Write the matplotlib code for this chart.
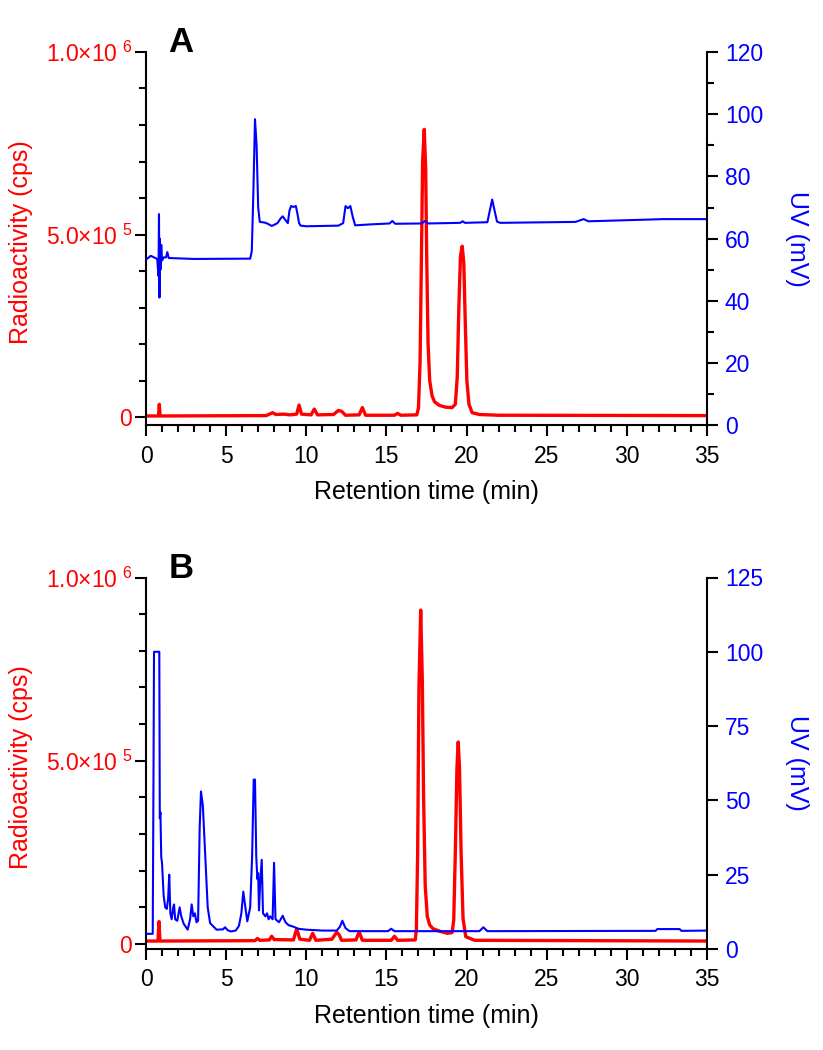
import matplotlib.pyplot as plt
from matplotlib.ticker import MultipleLocator

plt.rcParams['font.family'] = ['Liberation Sans', 'DejaVu Sans']
plt.rcParams['mathtext.fontset'] = 'custom'
plt.rcParams['mathtext.rm'] = 'Liberation Sans'

RED = '#ff0000'
BLUE = '#0000ff'

# ---- panel A : radioactivity (cps) ----
a_rad_t = [0, 0.78, 0.83, 0.88, 7.5, 7.9, 8.1, 8.6, 9.0, 9.4, 9.55, 9.7, 10.3, 10.5,
           10.7, 11.7, 12.0, 12.2, 12.45, 13.3, 13.5, 13.7, 15.5, 15.7, 15.9, 16.9,
           17.0, 17.1, 17.18, 17.26, 17.36, 17.45, 17.52, 17.6, 17.7, 17.85, 18.0,
           18.3, 18.7, 19.1, 19.3, 19.42, 19.52, 19.62, 19.73, 19.83, 19.92, 20.02,
           20.15, 20.35, 20.8, 22, 35]
a_rad = [3e3, 3e3, 35e3, 3e3, 4e3, 12e3, 7e3, 8e3, 6e3, 8e3, 33e3, 8e3, 6e3, 22e3,
         6e3, 7e3, 18e3, 16e3, 5e3, 6e3, 26e3, 5e3, 5e3, 10e3, 5e3, 6e3,
         25e3, 150e3, 420e3, 700e3, 788e3, 680e3, 420e3, 200e3, 100e3, 58e3, 42e3,
         32e3, 27e3, 26e3, 35e3, 110e3, 300e3, 440e3, 468e3, 420e3, 260e3, 100e3,
         35e3, 12e3, 7e3, 5e3, 4e3]

# ---- panel A : UV (mV) ----
a_uv_t = [0, 0.3, 0.5, 0.7, 0.78, 0.81, 0.84, 0.87, 0.9, 0.95, 1.0, 1.1, 1.25, 1.33,
          1.42, 3.0, 6.5, 6.6, 6.7, 6.8, 6.9, 7.0, 7.1, 7.4, 7.6, 7.85, 8.2, 8.4,
          8.53, 8.7, 8.85, 8.95, 9.05, 9.2, 9.35, 9.45, 9.55, 9.65, 10, 11, 12,
          12.3, 12.45, 12.6, 12.75, 12.9, 13.05, 14, 15.2, 15.37, 15.55, 17.2, 17.4,
          17.6, 19.6, 19.76, 19.9, 21.3, 21.45, 21.6, 21.75, 21.9, 22.1, 26.8, 27.3,
          27.6, 28.3, 31, 32.3, 35]
a_uv = [53.3, 54.5, 54.0, 53.5, 48, 67.9, 41.1, 60, 50, 58, 53, 54, 54, 55.7,
        53.8, 53.5, 53.6, 56, 75, 98.4, 90, 70, 65.4, 65.2, 64.8, 64.1, 65, 66.5,
        67.2, 66, 65, 69, 70.5, 70.2, 70.5, 68, 65, 64.2, 64.0, 64.1, 64.2,
        65, 70.5, 69.8, 70.5, 67, 64.3, 64.6, 64.9, 65.7, 64.8, 64.9, 65.7,
        64.9, 65.1, 65.6, 65.1, 65.3, 69, 72.6, 69, 65.5, 65.1, 65.4, 66.3,
        65.6, 65.7, 66.1, 66.3, 66.3]

# ---- panel B : radioactivity (cps) ----
b_rad_t = [0, 0.75, 0.81, 0.87, 6.8, 6.95, 7.1, 7.7, 7.84, 8.0, 9.2, 9.4, 9.6, 10.2,
           10.4, 10.6, 11.6, 11.9, 12.05, 12.2, 13.1, 13.3, 13.5, 15.3, 15.5, 15.7,
           16.8, 16.87, 16.95, 17.03, 17.14, 17.24, 17.32, 17.42, 17.55, 17.7, 17.9,
           18.3, 18.8, 19.1, 19.2, 19.3, 19.4, 19.48, 19.56, 19.66, 19.78, 19.95,
           20.5, 35]
b_rad = [8e3, 8e3, 61e3, 8e3, 9e3, 15e3, 10e3, 11e3, 21e3, 12e3, 11e3, 41e3, 13e3, 10e3,
         29e3, 10e3, 13e3, 32e3, 25e3, 10e3, 11e3, 33e3, 10e3, 10e3, 21e3, 10e3,
         11e3, 40e3, 250e3, 700e3, 911e3, 720e3, 400e3, 160e3, 75e3, 52e3, 42e3,
         35e3, 29e3, 31e3, 65e3, 250e3, 480e3, 551e3, 480e3, 250e3, 70e3, 20e3,
         10e3, 8e3]

# ---- panel B : UV (mV) ----
b_uv_t = [0, 0.42, 0.47, 0.5, 0.66, 0.83, 0.86, 0.9, 0.95, 1.0, 1.1, 1.2, 1.3, 1.38,
          1.45, 1.52, 1.6, 1.7, 1.75, 1.82, 1.95, 2.1, 2.2, 2.35, 2.6, 2.75, 2.85,
          2.95, 3.05, 3.15, 3.25, 3.35, 3.43, 3.55, 3.7, 3.85, 4.0, 4.4, 4.8, 4.93,
          5.1, 5.3, 5.6, 5.8, 5.95, 6.07, 6.2, 6.32, 6.5, 6.62, 6.72, 6.8, 6.88,
          6.95, 7.0, 7.05, 7.12, 7.22, 7.3, 7.45, 7.55, 7.65, 7.75, 7.9, 7.99, 8.08,
          8.3, 8.53, 8.7, 8.9, 9.2, 9.5, 10, 11, 11.9, 12.1, 12.25, 12.45, 12.7,
          15.1, 15.3, 15.5, 20.8, 21.05, 21.3, 31.8, 31.9, 33.3, 33.4, 35]
b_uv = [5.1, 5.1, 61, 100, 100, 100, 44, 46, 31, 29, 18, 14, 13.5, 17,
        25, 12, 10, 14, 15, 10, 9.5, 14, 11, 8.5, 6.5, 10, 15,
        11, 12, 9, 9.5, 41, 53, 48, 31, 14, 8.7, 6.5, 6.6, 7.3,
        6.3, 5.9, 6.2, 7.8, 12, 19.3, 14, 9.3, 14, 31, 57, 57, 31,
        23.5, 25.5, 13, 22, 30, 12, 11, 12, 10, 11, 10, 29, 10,
        9, 11.2, 9, 8, 7.5, 6.8, 6.5, 6.2, 6.2, 7.5, 9.5, 7, 6.0,
        6.0, 6.8, 6.0, 6.0, 7.3, 6.0, 6.1, 6.7, 6.7, 6.1, 6.2]


def draw_panel(fig, rect, letter, rad_t, rad, uv_t, uv, rad_bottom,
               uv_top, uv_major, uv_minor):
    ax = fig.add_axes(rect)
    ax2 = ax.twinx()

    ax.plot(rad_t, rad, color=RED, lw=2.4)
    ax2.plot(uv_t, uv, color=BLUE, lw=1.5)

    ax.set_xlim(0, 35)
    ax.set_ylim(rad_bottom, 1.0e6)
    ax2.set_ylim(0, uv_top)

    ax.set_xticks([0, 5, 10, 15, 20, 25, 30, 35])
    ax.xaxis.set_minor_locator(MultipleLocator(1))
    ax.set_yticks([0, 5e5, 1e6])
    ax.set_yticklabels(['0', '5.0\u00d710$^{\\ 5}$', '1.0\u00d710$^{\\ 6}$'])
    ax.yaxis.set_minor_locator(MultipleLocator(1e5))
    ax2.yaxis.set_major_locator(MultipleLocator(uv_major))
    if uv_minor:
        ax2.yaxis.set_minor_locator(MultipleLocator(uv_minor))
    else:
        ax2.yaxis.set_minor_locator(plt.NullLocator())

    for a in (ax, ax2):
        a.spines['top'].set_visible(False)
        for s in a.spines.values():
            s.set_linewidth(1.5)
        a.tick_params(which='major', length=7.9, width=1.5, labelsize=16.5)
        a.tick_params(which='minor', length=4.8, width=1.5)
    ax.spines['right'].set_visible(False)
    ax2.spines['left'].set_visible(False)
    ax2.spines['bottom'].set_visible(False)

    ax.tick_params(axis='y', labelcolor=RED, pad=2)
    ax2.tick_params(axis='y', labelcolor=BLUE, pad=5)
    ax.tick_params(axis='x', pad=6)

    ax.set_xlabel('Retention time (min)', fontsize=18, labelpad=9)
    ax.set_ylabel('Radioactivity (cps)', fontsize=18, color=RED)
    ax.yaxis.set_label_coords(-0.201, 0.49)
    ax2.set_ylabel('UV (mV)', fontsize=18, color=BLUE, rotation=270, va='center')
    ax2.yaxis.set_label_coords(1.16, 0.5)

    ax.text(0.04, 1.0, letter, transform=ax.transAxes, fontsize=25,
            fontweight='bold', ha='left', va='baseline')
    return ax, ax2


fig = plt.figure(figsize=(8.23, 10.5), dpi=100)
draw_panel(fig, [0.1774, 0.5948, 0.6816, 0.3557], 'A', a_rad_t, a_rad,
           a_uv_t, a_uv, -0.023e6, 120, 20, 10)
draw_panel(fig, [0.1774, 0.0962, 0.6816, 0.3538], 'B', b_rad_t, b_rad,
           b_uv_t, b_uv, -0.0137e6, 125, 25, None)

fig.savefig('out.png', dpi=100)
